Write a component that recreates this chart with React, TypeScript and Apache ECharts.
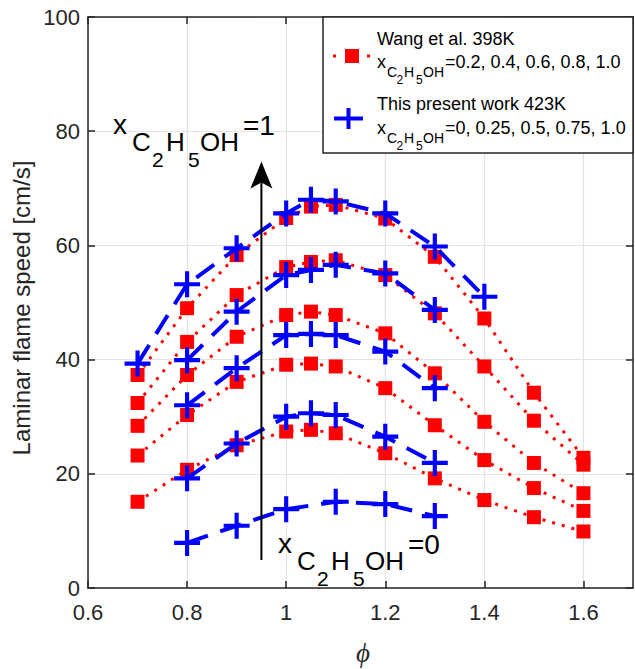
import React, { useEffect, useRef } from "react";
import * as echarts from "echarts";

// ---- Data ----
const phiWang = [0.7, 0.8, 0.9, 1.0, 1.05, 1.1, 1.2, 1.3, 1.4, 1.5, 1.6];
const wang10 = [37.3, 49.0, 58.3, 64.8, 66.8, 67.1, 64.7, 58.0, 47.2, 34.2, 22.8];
const wang08 = [32.4, 43.1, 51.3, 56.2, 57.1, 57.4, 54.8, 48.1, 38.8, 29.3, 21.6];
const wang06 = [28.4, 37.3, 44.0, 47.8, 48.4, 47.8, 44.6, 37.6, 29.1, 21.9, 16.6];
const wang04 = [23.2, 30.3, 36.1, 39.1, 39.3, 38.8, 35.0, 28.5, 22.4, 17.5, 13.5];
const wang02 = [15.1, 20.7, 25.0, 27.4, 27.7, 27.1, 23.6, 19.2, 15.4, 12.4, 9.9];

const phiWork100 = [0.7, 0.8, 0.9, 1.0, 1.05, 1.1, 1.2, 1.3, 1.4];
const work100 = [39.3, 53.2, 59.5, 65.6, 68.0, 67.7, 65.6, 59.8, 51.0];
const phiWork = [0.8, 0.9, 1.0, 1.05, 1.1, 1.2, 1.3];
const work075 = [39.9, 48.4, 54.8, 55.7, 56.6, 55.1, 48.7];
const work050 = [32.0, 38.5, 44.3, 44.5, 44.3, 41.4, 35.0];
const work025 = [19.2, 25.3, 30.0, 30.6, 30.3, 26.5, 21.9];
const phiWork0 = [0.8, 0.9, 1.0, 1.1, 1.2, 1.3];
const work000 = [7.9, 10.9, 13.8, 15.1, 14.7, 12.6];

const xTicks = { min: 0.6, max: 1.7, interval: 0.2 };
const yTicks = { min: 0, max: 100, interval: 20 };

// arrow annotation (data coords)
const arrowPhi = 0.95;
const arrowFrom = 4.9;
const arrowTo = 74.7;

const legendLabels = ["Wang et al. 398K", "This present work 423K"];
const legendValues = ["=0.2, 0.4, 0.6, 0.8, 1.0", "=0, 0.25, 0.5, 0.75, 1.0"];

const FONT = "'Liberation Sans', Arial, Helvetica, sans-serif";
const AXIS_COLOR = "#262626";
const RED = "#ff0000";
const BLUE = "#0000ff";
const CROSS =
  "path://M-2,-12.5L2,-12.5L2,-2L12.5,-2L12.5,2L2,2L2,12.5L-2,12.5L-2,2L-12.5,2L-12.5,-2L-2,-2Z";

function zip(xs: number[], ys: number[]) {
  return xs.map((x, i) => [x, ys[i]]);
}

// text with alphabetic baseline approximated
function txt(text: string, x: number, baseline: number, size: number, extra: any = {}) {
  return {
    type: "text",
    z: 100,
    silent: true,
    style: {
      text,
      x,
      y: baseline - 0.35 * size,
      fontSize: size,
      fontFamily: FONT,
      fill: "#000",
      align: "left",
      verticalAlign: "middle",
      ...extra,
    },
  };
}

function subscriptFormula(x0: number, b0: number, tail: string) {
  return [
    txt("x", x0, b0, 28),
    txt("C", x0 + 19, b0 + 17, 26),
    txt("2", x0 + 39, b0 + 33, 21),
    txt("H", x0 + 53, b0 + 17, 26),
    txt("5", x0 + 75, b0 + 33, 21),
    txt("OH", x0 + 87, b0 + 17, 26),
    txt(tail, x0 + 130, b0 + 1, 28),
  ];
}

function legendFormula(x0: number, b0: number, tail: string) {
  return [
    txt("x", x0, b0, 18),
    txt("C", x0 + 10, b0 + 9, 14),
    txt("2", x0 + 19.5, b0 + 16, 12),
    txt("H", x0 + 27, b0 + 9, 14),
    txt("5", x0 + 39, b0 + 16, 12),
    txt("OH", x0 + 46, b0 + 9, 14),
    txt(tail, x0 + 68, b0, 18),
  ];
}

export default function App() {
  const ref = useRef<HTMLDivElement>(null);

  useEffect(() => {
    if (!ref.current) return;
    const chart = echarts.init(ref.current, null, { renderer: "svg" });

    const redSeries = [wang02, wang04, wang06, wang08, wang10].map((ys) => ({
      type: "line",
      data: zip(phiWang, ys),
      symbol: "rect",
      symbolSize: 14,
      itemStyle: { color: RED },
      lineStyle: { color: RED, width: 3, type: [3, 7] },
      z: 2,
      silent: true,
    }));

    const blueData = [
      zip(phiWork0, work000),
      zip(phiWork, work025),
      zip(phiWork, work050),
      zip(phiWork, work075),
      zip(phiWork100, work100),
    ];
    const blueSeries = blueData.map((d) => ({
      type: "line",
      data: d,
      symbol: CROSS,
      symbolSize: 26,
      itemStyle: { color: BLUE },
      lineStyle: { color: BLUE, width: 4, type: [22, 13] },
      z: 3,
      silent: true,
    }));

    const axisLine = { show: true, onZero: false, lineStyle: { color: AXIS_COLOR, width: 1.5 } };
    const axisTick = { show: true, inside: true, length: 7, lineStyle: { color: AXIS_COLOR, width: 1.5 } };
    const labelStyle = { fontSize: 22, color: AXIS_COLOR, fontFamily: FONT };

    chart.setOption({
      animation: false,
      backgroundColor: "#ffffff",
      grid: { left: 88, right: 2, top: 17, bottom: 81, containLabel: false },
      xAxis: [
        {
          type: "value",
          ...xTicks,
          position: "bottom",
          axisLine,
          axisTick,
          axisLabel: {
            ...labelStyle,
            margin: 13,
            showMaxLabel: false,
            formatter: (v: number) => (v > 1.65 ? "" : String(Math.round(v * 10) / 10)),
          },
          splitLine: { show: true, lineStyle: { color: "#e3e3e3", width: 1.2 } },
        },
        {
          type: "value",
          ...xTicks,
          position: "top",
          axisLine,
          axisTick,
          axisLabel: { show: false },
          splitLine: { show: false },
        },
      ],
      yAxis: [
        {
          type: "value",
          ...yTicks,
          position: "left",
          axisLine,
          axisTick,
          axisLabel: { ...labelStyle, margin: 8 },
          splitLine: { show: true, lineStyle: { color: "#e3e3e3", width: 1.2 } },
        },
        {
          type: "value",
          ...yTicks,
          position: "right",
          axisLine,
          axisTick,
          axisLabel: { show: false },
          splitLine: { show: false },
        },
      ],
      series: [...redSeries, ...blueSeries],
    });

    const p0 = chart.convertToPixel({ xAxisIndex: 0, yAxisIndex: 0 }, [arrowPhi, arrowFrom]) as number[];
    const p1 = chart.convertToPixel({ xAxisIndex: 0, yAxisIndex: 0 }, [arrowPhi, arrowTo]) as number[];
    const ax = p0[0];
    const headH = 27;
    const headW = 11;
    const notch = 21;

    const elements: any[] = [
      {
        type: "line",
        z: 90,
        silent: true,
        shape: { x1: ax, y1: p0[1], x2: ax, y2: p1[1] + notch },
        style: { stroke: "#000", lineWidth: 2 },
      },
      {
        type: "polygon",
        z: 90,
        silent: true,
        shape: {
          points: [
            [ax, p1[1]],
            [ax + headW, p1[1] + headH],
            [ax, p1[1] + notch],
            [ax - headW, p1[1] + headH],
          ],
        },
        style: { fill: "#000" },
      },
      // annotations
      ...subscriptFormula(113, 134, "=1"),
      ...subscriptFormula(278, 553, "=0"),
      // legend box
      {
        type: "rect",
        z: 95,
        silent: true,
        shape: { x: 323, y: 17, width: 310, height: 136 },
        style: { fill: "#ffffff", stroke: AXIS_COLOR, lineWidth: 1.5 },
      },
      {
        type: "line",
        z: 100,
        silent: true,
        shape: { x1: 333, y1: 56, x2: 371, y2: 56 },
        style: { stroke: RED, lineWidth: 3, lineDash: [3, 31] },
      },
      {
        type: "rect",
        z: 100,
        silent: true,
        shape: { x: 345, y: 49, width: 14, height: 14 },
        style: { fill: RED },
      },
      {
        type: "line",
        z: 100,
        silent: true,
        shape: { x1: 334, y1: 118.5, x2: 363, y2: 118.5 },
        style: { stroke: BLUE, lineWidth: 4 },
      },
      {
        type: "line",
        z: 100,
        silent: true,
        shape: { x1: 348.5, y1: 108, x2: 348.5, y2: 129 },
        style: { stroke: BLUE, lineWidth: 4 },
      },
      txt(legendLabels[0], 377, 45, 18),
      ...legendFormula(377, 68, legendValues[0]),
      txt(legendLabels[1], 377, 110, 18),
      ...legendFormula(377, 134, legendValues[1]),
      // axis names
      {
        type: "text",
        z: 100,
        silent: true,
        x: 21,
        y: 308,
        rotation: Math.PI / 2,
        style: {
          text: "Laminar flame speed [cm/s]",
          fontSize: 24,
          fontFamily: FONT,
          fill: AXIS_COLOR,
          align: "center",
          verticalAlign: "middle",
        },
      },
      {
        type: "text",
        z: 100,
        silent: true,
        x: 363,
        y: 653,
        style: {
          text: "\u03d5",
          fontSize: 27,
          fontStyle: "italic",
          fontFamily: "'Liberation Serif', 'DejaVu Serif', serif",
          fill: AXIS_COLOR,
          align: "center",
          verticalAlign: "middle",
        },
      },
    ];

    chart.setOption({ graphic: { elements } });

    return () => {
      chart.dispose();
    };
  }, []);

  return (
    <div
      ref={ref}
      style={{ position: "fixed", left: 0, top: 0, width: 635, height: 669, background: "#fff" }}
    />
  );
}
